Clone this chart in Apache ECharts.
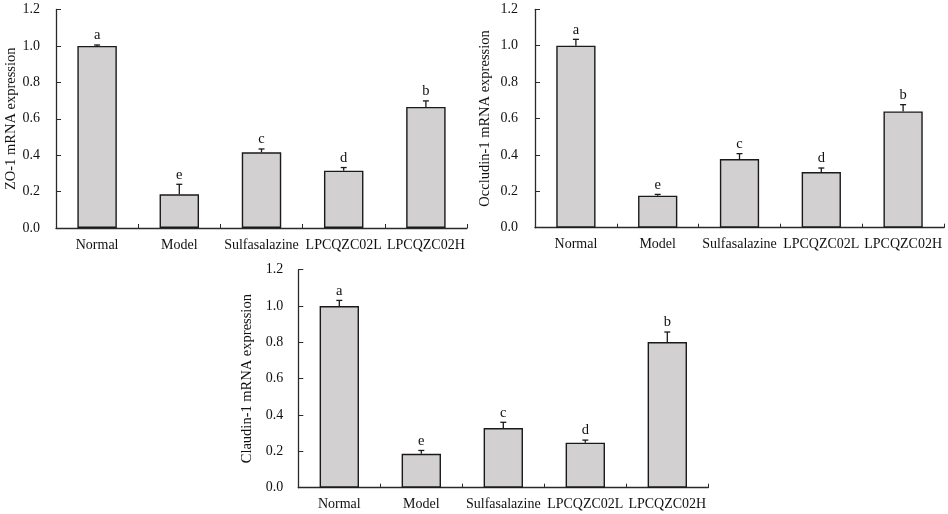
<!DOCTYPE html>
<html>
<head>
<meta charset="utf-8">
<script src="https://cdn.jsdelivr.net/npm/echarts@6/dist/echarts.min.js"></script>
<style>html,body{margin:0;padding:0;background:#fff;}#c{width:948px;height:514px;}</style>
</head>
<body>
<div id="c"></div>
<script>
var categories = ['Normal', 'Model', 'Sulfasalazine', 'LPCQZC02L', 'LPCQZC02H'];
var yTicks = [0, 0.2, 0.4, 0.6, 0.8, 1.0, 1.2];

var zo1Mean = [1.0, 0.185, 0.416, 0.315, 0.665];
var zo1Err = [0.005, 0.055, 0.018, 0.017, 0.033];
var zo1Letters = ['a', 'e', 'c', 'd', 'b'];

var occMean = [1.0, 0.176, 0.377, 0.306, 0.639];
var occErr = [0.035, 0.007, 0.030, 0.022, 0.037];
var occLetters = ['a', 'e', 'c', 'd', 'b'];

var claMean = [1.0, 0.187, 0.328, 0.248, 0.802];
var claErr = [0.031, 0.018, 0.032, 0.014, 0.055];
var claLetters = ['a', 'e', 'c', 'd', 'b'];

var panels = [
  { name: 'ZO-1 mRNA expression', mean: zo1Mean, err: zo1Err, letters: zo1Letters,
    grid: { left: 56, top: 9.5, width: 411, height: 218.5 }, nameGap: 37, labelMargin: 16 },
  { name: 'Occludin-1 mRNA expression', mean: occMean, err: occErr, letters: occLetters,
    grid: { left: 535, top: 9.3, width: 409, height: 218.4 }, nameGap: 42, labelMargin: 17 },
  { name: 'Claudin-1 mRNA expression', mean: claMean, err: claErr, letters: claLetters,
    grid: { left: 298.3, top: 269.7, width: 410, height: 218 }, nameGap: 44, labelMargin: 15 }
];

var FONT = '"Liberation Serif", "Times New Roman", serif';
var AXIS_COLOR = '#2a2a2a';

var grids = [], xAxes = [], yAxes = [], series = [];
panels.forEach(function (p, i) {
  grids.push(Object.assign({ containLabel: false }, p.grid));
  xAxes.push({
    type: 'category', gridIndex: i, data: categories,
    axisLine: { lineStyle: { color: AXIS_COLOR, width: 1.3 } },
    axisTick: { show: true, inside: true, length: 4, lineStyle: { color: AXIS_COLOR, width: 1 } },
    axisLabel: { interval: 0, margin: 10, color: '#111', fontFamily: FONT, fontSize: 14 },
    splitLine: { show: false }
  });
  yAxes.push({
    type: 'value', gridIndex: i, min: yTicks[0], max: yTicks[yTicks.length - 1], interval: 0.2,
    name: p.name, nameLocation: 'middle', nameGap: p.nameGap,
    nameTextStyle: { color: '#111', fontFamily: FONT, fontSize: 14.5 },
    axisLine: { show: true, lineStyle: { color: AXIS_COLOR, width: 1.3 } },
    axisTick: { show: true, inside: true, length: 5, lineStyle: { color: AXIS_COLOR, width: 1 } },
    axisLabel: { margin: p.labelMargin, color: '#111', fontFamily: FONT, fontSize: 14,
      formatter: function (v) { return v.toFixed(1); } },
    splitLine: { show: false }
  });
  series.push({
    type: 'bar', xAxisIndex: i, yAxisIndex: i, data: p.mean, barWidth: '48%',
    itemStyle: { color: '#d3d0d1', borderColor: '#1a1a1a', borderWidth: 1.4 },
    silent: true, animation: false
  });
  var errData = p.mean.map(function (m, k) { return [k, m, m + p.err[k], p.letters[k]]; });
  series.push({
    type: 'custom', xAxisIndex: i, yAxisIndex: i, data: errData, animation: false, silent: true,
    encode: { x: 0, y: [1, 2] },
    renderItem: function (params, api) {
      var x = api.value(0);
      var lo = api.coord([x, api.value(1)]);
      var hi = api.coord([x, api.value(2)]);
      var cap = 3;
      var letter = errData[params.dataIndex][3];
      return {
        type: 'group',
        children: [
          { type: 'line', shape: { x1: lo[0], y1: lo[1], x2: hi[0], y2: hi[1] },
            style: { stroke: '#1a1a1a', lineWidth: 1.3 } },
          { type: 'line', shape: { x1: hi[0] - cap, y1: hi[1], x2: hi[0] + cap, y2: hi[1] },
            style: { stroke: '#1a1a1a', lineWidth: 1.3 } },
          { type: 'text', x: hi[0], y: hi[1] - 2,
            style: { text: letter, fill: '#111', font: '14.5px ' + FONT,
              textAlign: 'center', textVerticalAlign: 'bottom' } }
        ]
      };
    }
  });
});

var chart = echarts.init(document.getElementById('c'), null, { renderer: 'canvas' });
chart.setOption({
  backgroundColor: '#ffffff',
  animation: false,
  grid: grids, xAxis: xAxes, yAxis: yAxes, series: series
});
</script>
</body>
</html>
